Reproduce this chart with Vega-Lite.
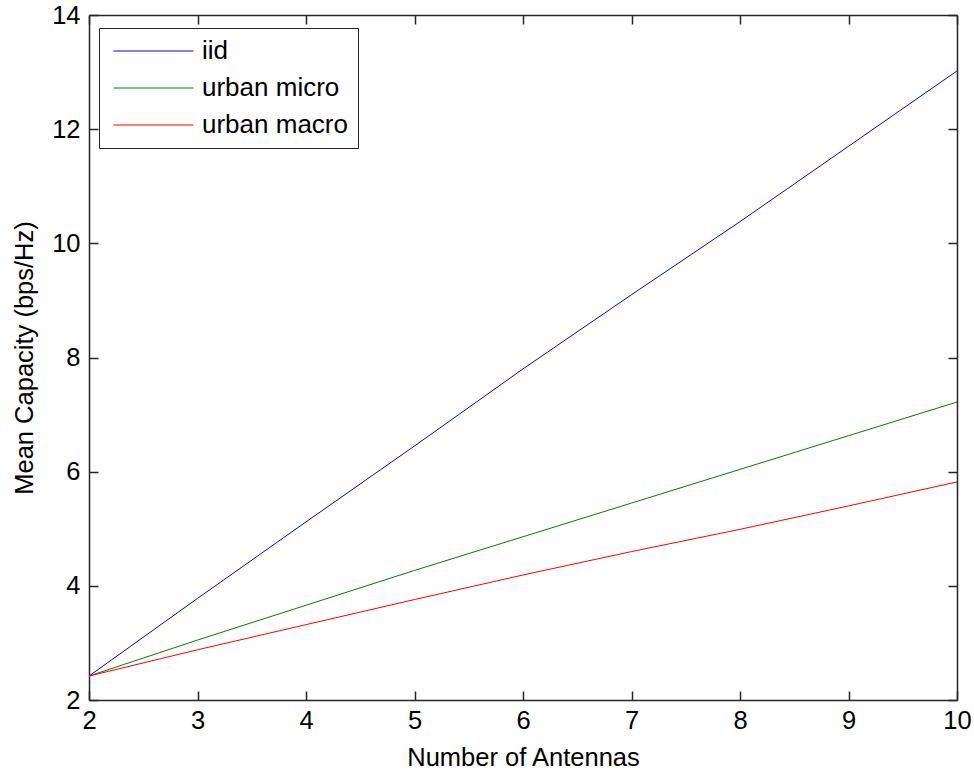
{
  "$schema": "https://vega.github.io/schema/vega-lite/v6.json",
  "width": 868,
  "height": 685,
  "autosize": "none",
  "padding": {"left": 89, "top": 15, "right": 17, "bottom": 72},
  "background": "white",
  "config": {
    "font": "Liberation Sans",
    "view": {"stroke": null},
    "axis": {"grid": false, "domainColor": "#262626", "domainWidth": 1.5, "tickColor": "#262626", "tickWidth": 1.5, "labelColor": "black", "titleColor": "black", "labelFontSize": 25.5, "titleFontSize": 25.5, "titleFontWeight": "normal", "labelFont": "Liberation Sans", "titleFont": "Liberation Sans"}
  },
  "data": {"values": [
    {"n": 2, "c": 2.42, "s": "iid"},
    {"n": 3, "c": 3.78, "s": "iid"},
    {"n": 4, "c": 5.12, "s": "iid"},
    {"n": 5, "c": 6.45, "s": "iid"},
    {"n": 6, "c": 7.8, "s": "iid"},
    {"n": 7, "c": 9.1, "s": "iid"},
    {"n": 8, "c": 10.38, "s": "iid"},
    {"n": 9, "c": 11.7, "s": "iid"},
    {"n": 10, "c": 13.02, "s": "iid"},
    {"n": 2, "c": 2.42, "s": "urban micro"},
    {"n": 3, "c": 3.05, "s": "urban micro"},
    {"n": 4, "c": 3.66, "s": "urban micro"},
    {"n": 5, "c": 4.27, "s": "urban micro"},
    {"n": 6, "c": 4.86, "s": "urban micro"},
    {"n": 7, "c": 5.45, "s": "urban micro"},
    {"n": 8, "c": 6.04, "s": "urban micro"},
    {"n": 9, "c": 6.63, "s": "urban micro"},
    {"n": 10, "c": 7.22, "s": "urban micro"},
    {"n": 2, "c": 2.42, "s": "urban macro"},
    {"n": 3, "c": 2.88, "s": "urban macro"},
    {"n": 4, "c": 3.32, "s": "urban macro"},
    {"n": 5, "c": 3.76, "s": "urban macro"},
    {"n": 6, "c": 4.19, "s": "urban macro"},
    {"n": 7, "c": 4.6, "s": "urban macro"},
    {"n": 8, "c": 4.99, "s": "urban macro"},
    {"n": 9, "c": 5.4, "s": "urban macro"},
    {"n": 10, "c": 5.82, "s": "urban macro"}
  ]},
  "layer": [
    {
      "mark": {"type": "line", "strokeWidth": 1},
      "encoding": {
        "x": {"field": "n", "type": "quantitative", "scale": {"domain": [2, 10], "nice": false, "zero": false},
          "axis": {"title": "Number of Antennas", "values": [2,3,4,5,6,7,8,9,10], "tickSize": -9, "labelPadding": 17, "titlePadding": 12, "labelFlush": false}},
        "y": {"field": "c", "type": "quantitative", "scale": {"domain": [2, 14], "nice": false, "zero": false},
          "axis": {"title": "Mean Capacity (bps/Hz)", "values": [2,4,6,8,10,12,14], "tickSize": -9, "labelPadding": 18, "titlePadding": 14, "labelFlush": false}},
        "color": {"field": "s", "type": "nominal",
          "scale": {"domain": ["iid", "urban micro", "urban macro"], "range": ["#0000ff", "#008000", "#ff0000"]},
          "legend": {"title": null, "orient": "none", "legendX": 10, "legendY": 13, "symbolType": "stroke", "symbolSize": 6400, "symbolStrokeWidth": 1, "clipHeight": 26, "labelFontSize": 26, "labelFont": "Liberation Sans", "labelColor": "black", "strokeColor": "#262626", "fillColor": "white", "padding": 10, "rowPadding": 11, "symbolOffset": 4, "labelOffset": 8}
        }
      }
    },
    {
      "mark": {"type": "line", "opacity": 0},
      "encoding": {
        "x": {"field": "n", "type": "quantitative", "axis": {"orient": "top", "title": null, "labels": false, "values": [2,3,4,5,6,7,8,9,10], "tickSize": -9}},
        "y": {"field": "c", "type": "quantitative", "axis": {"orient": "right", "title": null, "labels": false, "values": [2,4,6,8,10,12,14], "tickSize": -9}},
        "detail": {"field": "s"}
      }
    }
  ],
  "resolve": {"axis": {"x": "independent", "y": "independent"}}
}
